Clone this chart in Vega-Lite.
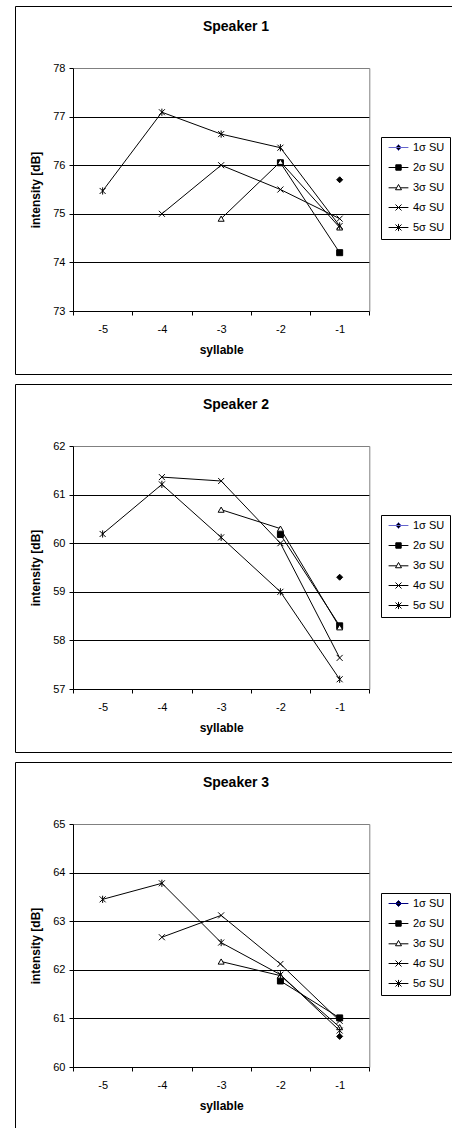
{
 "$schema": "https://vega.github.io/schema/vega-lite/v6.json",
 "padding": {"left": 14, "top": 5, "right": 0, "bottom": 0},
 "spacing": 8,
 "datasets": {
  "d": [
   {"speaker": "Speaker 1", "series": "1σ SU", "syllable": -1, "intensity": 75.7},
   {"speaker": "Speaker 1", "series": "2σ SU", "syllable": -2, "intensity": 76.05},
   {"speaker": "Speaker 1", "series": "2σ SU", "syllable": -1, "intensity": 74.2},
   {"speaker": "Speaker 1", "series": "3σ SU", "syllable": -3, "intensity": 74.9},
   {"speaker": "Speaker 1", "series": "3σ SU", "syllable": -2, "intensity": 76.07},
   {"speaker": "Speaker 1", "series": "3σ SU", "syllable": -1, "intensity": 74.72},
   {"speaker": "Speaker 1", "series": "4σ SU", "syllable": -4, "intensity": 75.0},
   {"speaker": "Speaker 1", "series": "4σ SU", "syllable": -3, "intensity": 76.0},
   {"speaker": "Speaker 1", "series": "4σ SU", "syllable": -2, "intensity": 75.5},
   {"speaker": "Speaker 1", "series": "4σ SU", "syllable": -1, "intensity": 74.9},
   {"speaker": "Speaker 1", "series": "5σ SU", "syllable": -5, "intensity": 75.47},
   {"speaker": "Speaker 1", "series": "5σ SU", "syllable": -4, "intensity": 77.09},
   {"speaker": "Speaker 1", "series": "5σ SU", "syllable": -3, "intensity": 76.64},
   {"speaker": "Speaker 1", "series": "5σ SU", "syllable": -2, "intensity": 76.36},
   {"speaker": "Speaker 1", "series": "5σ SU", "syllable": -1, "intensity": 74.75},
   {"speaker": "Speaker 2", "series": "1σ SU", "syllable": -1, "intensity": 59.3},
   {"speaker": "Speaker 2", "series": "2σ SU", "syllable": -2, "intensity": 60.18},
   {"speaker": "Speaker 2", "series": "2σ SU", "syllable": -1, "intensity": 58.3},
   {"speaker": "Speaker 2", "series": "3σ SU", "syllable": -3, "intensity": 60.69},
   {"speaker": "Speaker 2", "series": "3σ SU", "syllable": -2, "intensity": 60.3},
   {"speaker": "Speaker 2", "series": "3σ SU", "syllable": -1, "intensity": 58.27},
   {"speaker": "Speaker 2", "series": "4σ SU", "syllable": -4, "intensity": 61.36},
   {"speaker": "Speaker 2", "series": "4σ SU", "syllable": -3, "intensity": 61.28},
   {"speaker": "Speaker 2", "series": "4σ SU", "syllable": -2, "intensity": 60.0},
   {"speaker": "Speaker 2", "series": "4σ SU", "syllable": -1, "intensity": 57.64},
   {"speaker": "Speaker 2", "series": "5σ SU", "syllable": -5, "intensity": 60.19},
   {"speaker": "Speaker 2", "series": "5σ SU", "syllable": -4, "intensity": 61.21},
   {"speaker": "Speaker 2", "series": "5σ SU", "syllable": -3, "intensity": 60.12},
   {"speaker": "Speaker 2", "series": "5σ SU", "syllable": -2, "intensity": 59.0},
   {"speaker": "Speaker 2", "series": "5σ SU", "syllable": -1, "intensity": 57.2},
   {"speaker": "Speaker 3", "series": "1σ SU", "syllable": -1, "intensity": 60.63},
   {"speaker": "Speaker 3", "series": "2σ SU", "syllable": -2, "intensity": 61.77},
   {"speaker": "Speaker 3", "series": "2σ SU", "syllable": -1, "intensity": 61.01},
   {"speaker": "Speaker 3", "series": "3σ SU", "syllable": -3, "intensity": 62.17},
   {"speaker": "Speaker 3", "series": "3σ SU", "syllable": -2, "intensity": 61.88},
   {"speaker": "Speaker 3", "series": "3σ SU", "syllable": -1, "intensity": 60.82},
   {"speaker": "Speaker 3", "series": "4σ SU", "syllable": -4, "intensity": 62.67},
   {"speaker": "Speaker 3", "series": "4σ SU", "syllable": -3, "intensity": 63.12},
   {"speaker": "Speaker 3", "series": "4σ SU", "syllable": -2, "intensity": 62.12},
   {"speaker": "Speaker 3", "series": "4σ SU", "syllable": -1, "intensity": 60.95},
   {"speaker": "Speaker 3", "series": "5σ SU", "syllable": -5, "intensity": 63.45},
   {"speaker": "Speaker 3", "series": "5σ SU", "syllable": -4, "intensity": 63.78},
   {"speaker": "Speaker 3", "series": "5σ SU", "syllable": -3, "intensity": 62.56},
   {"speaker": "Speaker 3", "series": "5σ SU", "syllable": -2, "intensity": 61.9},
   {"speaker": "Speaker 3", "series": "5σ SU", "syllable": -1, "intensity": 60.75}
  ]
 },
 "vconcat": [
  {
   "width": 438, "height": 368,
   "title": {"text": "Speaker 1", "offset": -28, "anchor": "middle", "frame": "group", "dx": 2},
   "data": {"name": "d"},
   "transform": [{"filter": "datum.speaker === 'Speaker 1'"}],
   "resolve": {"scale": {"shape": "independent", "fill": "independent", "stroke": "independent"}, "axis": {"y": "independent"}},
   "layer": [
    {"mark": {"type": "line", "color": "#000", "strokeWidth": 1},
     "encoding": {
      "x": {"field": "syllable", "type": "ordinal", "scale": {"type": "band", "domain": [-5, -4, -3, -2, -1], "range": [58, 354.3], "paddingInner": 0, "paddingOuter": 0},
            "axis": {"orient": "bottom", "offset": -63, "tickBand": "extent", "tickSize": 4, "labelPadding": 8, "labelAngle": 0, "title": "syllable", "titlePadding": 10, "grid": false}},
      "y": {"field": "intensity", "type": "quantitative", "scale": {"domain": [73, 78], "range": [305, 62], "nice": false, "zero": false},
            "axis": {"values": [73, 74, 75, 76, 77, 78], "offset": -58, "tickSize": 4, "labelPadding": 4, "grid": true, "gridColor": {"condition": {"test": "datum.value === 78", "value": "#808080"}, "value": "#000"}, "title": "intensity [dB]", "titlePadding": 10}},
      "detail": {"field": "series"}
     }},
    {"mark": {"type": "point", "filled": true, "stroke": "#000", "strokeWidth": 1, "size": 36, "opacity": 1},
     "encoding": {
      "x": {"field": "syllable", "type": "ordinal", "scale": {"type": "band", "domain": [-5, -4, -3, -2, -1], "range": [58, 354.3], "paddingInner": 0, "paddingOuter": 0},
            "axis": {"orient": "bottom", "offset": -63, "tickBand": "extent", "tickSize": 4, "labelPadding": 8, "labelAngle": 0, "title": "syllable", "titlePadding": 10, "grid": false}},
      "y": {"field": "intensity", "type": "quantitative", "scale": {"domain": [73, 78], "range": [305, 62], "nice": false, "zero": false},
            "axis": {"orient": "right", "offset": -83.7, "labels": false, "ticks": false, "grid": false, "domainColor": "#808080", "title": null}},
      "shape": {"field": "series", "type": "nominal", "scale": {"domain": ["1σ SU", "2σ SU", "3σ SU", "4σ SU", "5σ SU"], "range": ["diamond", "square", "triangle-up", "M-1,-1L1,1M-1,1L1,-1", "M-1,-1L1,1M-1,1L1,-1M0,-1.2V1.2"]}, "legend": null},
      "fill": {"field": "series", "type": "nominal", "scale": {"domain": ["1σ SU", "2σ SU", "3σ SU", "4σ SU", "5σ SU"], "range": ["#000", "#000", "#fff", "#000", "#000"]}, "legend": null}
     }},
    {"data": {"values": []},
     "mark": {"type": "point", "filled": true, "strokeWidth": 1, "size": 36, "opacity": 1},
     "encoding": {
      "shape": {"field": "series", "type": "nominal", "scale": {"domain": ["1σ SU", "2σ SU", "3σ SU", "4σ SU", "5σ SU"], "range": ["M-3.3,0H3.3M0,-1L1,0L0,1L-1,0Z", "M-3.3,0H3.3M-0.9,-0.9H0.9V0.9H-0.9Z", "M-3.3,0.1H-0.62M0.62,0.1H3.3M0,-1L1,0.75L-1,0.75Z", "M-3.3,0H3.3M-1,-1L1,1M-1,1L1,-1", "M-3.3,0H3.3M-1,-1L1,1M-1,1L1,-1M0,-1.2V1.2"]}, "legend": {"title": null}},
      "fill": {"field": "series", "type": "nominal", "scale": {"domain": ["1σ SU", "2σ SU", "3σ SU", "4σ SU", "5σ SU"], "range": ["#000", "#000", "#fff", "#000", "#000"]}, "legend": {"title": null}},
      "stroke": {"field": "series", "type": "nominal", "scale": {"domain": ["1σ SU", "2σ SU", "3σ SU", "4σ SU", "5σ SU"], "range": ["#6666cc", "#000", "#000", "#000", "#000"]}, "legend": {"title": null}}
     }}
   ]
  },
  {
   "width": 438, "height": 368,
   "title": {"text": "Speaker 2", "offset": -28, "anchor": "middle", "frame": "group", "dx": 2},
   "data": {"name": "d"},
   "transform": [{"filter": "datum.speaker === 'Speaker 2'"}],
   "resolve": {"scale": {"shape": "independent", "fill": "independent", "stroke": "independent"}, "axis": {"y": "independent"}},
   "layer": [
    {"mark": {"type": "line", "color": "#000", "strokeWidth": 1},
     "encoding": {
      "x": {"field": "syllable", "type": "ordinal", "scale": {"type": "band", "domain": [-5, -4, -3, -2, -1], "range": [58, 354.3], "paddingInner": 0, "paddingOuter": 0},
            "axis": {"orient": "bottom", "offset": -63, "tickBand": "extent", "tickSize": 4, "labelPadding": 8, "labelAngle": 0, "title": "syllable", "titlePadding": 10, "grid": false}},
      "y": {"field": "intensity", "type": "quantitative", "scale": {"domain": [57, 62], "range": [305, 62], "nice": false, "zero": false},
            "axis": {"values": [57, 58, 59, 60, 61, 62], "offset": -58, "tickSize": 4, "labelPadding": 4, "grid": true, "gridColor": {"condition": {"test": "datum.value === 62", "value": "#808080"}, "value": "#000"}, "title": "intensity [dB]", "titlePadding": 10}},
      "detail": {"field": "series"}
     }},
    {"mark": {"type": "point", "filled": true, "stroke": "#000", "strokeWidth": 1, "size": 36, "opacity": 1},
     "encoding": {
      "x": {"field": "syllable", "type": "ordinal", "scale": {"type": "band", "domain": [-5, -4, -3, -2, -1], "range": [58, 354.3], "paddingInner": 0, "paddingOuter": 0},
            "axis": {"orient": "bottom", "offset": -63, "tickBand": "extent", "tickSize": 4, "labelPadding": 8, "labelAngle": 0, "title": "syllable", "titlePadding": 10, "grid": false}},
      "y": {"field": "intensity", "type": "quantitative", "scale": {"domain": [57, 62], "range": [305, 62], "nice": false, "zero": false},
            "axis": {"orient": "right", "offset": -83.7, "labels": false, "ticks": false, "grid": false, "domainColor": "#808080", "title": null}},
      "shape": {"field": "series", "type": "nominal", "scale": {"domain": ["1σ SU", "2σ SU", "3σ SU", "4σ SU", "5σ SU"], "range": ["diamond", "square", "triangle-up", "M-1,-1L1,1M-1,1L1,-1", "M-1,-1L1,1M-1,1L1,-1M0,-1.2V1.2"]}, "legend": null},
      "fill": {"field": "series", "type": "nominal", "scale": {"domain": ["1σ SU", "2σ SU", "3σ SU", "4σ SU", "5σ SU"], "range": ["#000", "#000", "#fff", "#000", "#000"]}, "legend": null}
     }},
    {"data": {"values": []},
     "mark": {"type": "point", "filled": true, "strokeWidth": 1, "size": 36, "opacity": 1},
     "encoding": {
      "shape": {"field": "series", "type": "nominal", "scale": {"domain": ["1σ SU", "2σ SU", "3σ SU", "4σ SU", "5σ SU"], "range": ["M-3.3,0H3.3M0,-1L1,0L0,1L-1,0Z", "M-3.3,0H3.3M-0.9,-0.9H0.9V0.9H-0.9Z", "M-3.3,0.1H-0.62M0.62,0.1H3.3M0,-1L1,0.75L-1,0.75Z", "M-3.3,0H3.3M-1,-1L1,1M-1,1L1,-1", "M-3.3,0H3.3M-1,-1L1,1M-1,1L1,-1M0,-1.2V1.2"]}, "legend": {"title": null}},
      "fill": {"field": "series", "type": "nominal", "scale": {"domain": ["1σ SU", "2σ SU", "3σ SU", "4σ SU", "5σ SU"], "range": ["#000", "#000", "#fff", "#000", "#000"]}, "legend": {"title": null}},
      "stroke": {"field": "series", "type": "nominal", "scale": {"domain": ["1σ SU", "2σ SU", "3σ SU", "4σ SU", "5σ SU"], "range": ["#6666cc", "#000", "#000", "#000", "#000"]}, "legend": {"title": null}}
     }}
   ]
  },
  {
   "width": 438, "height": 368,
   "title": {"text": "Speaker 3", "offset": -28, "anchor": "middle", "frame": "group", "dx": 2},
   "data": {"name": "d"},
   "transform": [{"filter": "datum.speaker === 'Speaker 3'"}],
   "resolve": {"scale": {"shape": "independent", "fill": "independent", "stroke": "independent"}, "axis": {"y": "independent"}},
   "layer": [
    {"mark": {"type": "line", "color": "#000", "strokeWidth": 1},
     "encoding": {
      "x": {"field": "syllable", "type": "ordinal", "scale": {"type": "band", "domain": [-5, -4, -3, -2, -1], "range": [58, 354.3], "paddingInner": 0, "paddingOuter": 0},
            "axis": {"orient": "bottom", "offset": -63, "tickBand": "extent", "tickSize": 4, "labelPadding": 8, "labelAngle": 0, "title": "syllable", "titlePadding": 10, "grid": false}},
      "y": {"field": "intensity", "type": "quantitative", "scale": {"domain": [60, 65], "range": [305, 62], "nice": false, "zero": false},
            "axis": {"values": [60, 61, 62, 63, 64, 65], "offset": -58, "tickSize": 4, "labelPadding": 4, "grid": true, "gridColor": {"condition": {"test": "datum.value === 65", "value": "#808080"}, "value": "#000"}, "title": "intensity [dB]", "titlePadding": 10}},
      "detail": {"field": "series"}
     }},
    {"mark": {"type": "point", "filled": true, "stroke": "#000", "strokeWidth": 1, "size": 36, "opacity": 1},
     "encoding": {
      "x": {"field": "syllable", "type": "ordinal", "scale": {"type": "band", "domain": [-5, -4, -3, -2, -1], "range": [58, 354.3], "paddingInner": 0, "paddingOuter": 0},
            "axis": {"orient": "bottom", "offset": -63, "tickBand": "extent", "tickSize": 4, "labelPadding": 8, "labelAngle": 0, "title": "syllable", "titlePadding": 10, "grid": false}},
      "y": {"field": "intensity", "type": "quantitative", "scale": {"domain": [60, 65], "range": [305, 62], "nice": false, "zero": false},
            "axis": {"orient": "right", "offset": -83.7, "labels": false, "ticks": false, "grid": false, "domainColor": "#808080", "title": null}},
      "shape": {"field": "series", "type": "nominal", "scale": {"domain": ["1σ SU", "2σ SU", "3σ SU", "4σ SU", "5σ SU"], "range": ["diamond", "square", "triangle-up", "M-1,-1L1,1M-1,1L1,-1", "M-1,-1L1,1M-1,1L1,-1M0,-1.2V1.2"]}, "legend": null},
      "fill": {"field": "series", "type": "nominal", "scale": {"domain": ["1σ SU", "2σ SU", "3σ SU", "4σ SU", "5σ SU"], "range": ["#000", "#000", "#fff", "#000", "#000"]}, "legend": null}
     }},
    {"data": {"values": []},
     "mark": {"type": "point", "filled": true, "strokeWidth": 1, "size": 36, "opacity": 1},
     "encoding": {
      "shape": {"field": "series", "type": "nominal", "scale": {"domain": ["1σ SU", "2σ SU", "3σ SU", "4σ SU", "5σ SU"], "range": ["M-3.3,0H3.3M0,-1L1,0L0,1L-1,0Z", "M-3.3,0H3.3M-0.9,-0.9H0.9V0.9H-0.9Z", "M-3.3,0.1H-0.62M0.62,0.1H3.3M0,-1L1,0.75L-1,0.75Z", "M-3.3,0H3.3M-1,-1L1,1M-1,1L1,-1", "M-3.3,0H3.3M-1,-1L1,1M-1,1L1,-1M0,-1.2V1.2"]}, "legend": {"title": null}},
      "fill": {"field": "series", "type": "nominal", "scale": {"domain": ["1σ SU", "2σ SU", "3σ SU", "4σ SU", "5σ SU"], "range": ["#000", "#000", "#fff", "#000", "#000"]}, "legend": {"title": null}},
      "stroke": {"field": "series", "type": "nominal", "scale": {"domain": ["1σ SU", "2σ SU", "3σ SU", "4σ SU", "5σ SU"], "range": ["#000080", "#000", "#000", "#000", "#000"]}, "legend": {"title": null}}
     }}
   ]
  }
 ],
 "resolve": {
  "scale": {"x": "independent", "y": "independent", "shape": "independent", "fill": "independent", "stroke": "independent"},
  "legend": {"shape": "independent", "fill": "independent", "stroke": "independent"}
 },
 "config": {
  "font": "Liberation Sans",
  "background": "#ffffff",
  "view": {"stroke": "#000", "strokeWidth": 1},
  "title": {"font": "Liberation Sans", "fontSize": 14, "fontWeight": "bold", "color": "#000"},
  "axis": {
   "labelFont": "Liberation Sans", "labelFontSize": 11, "labelColor": "#000",
   "titleFont": "Liberation Sans", "titleFontSize": 12, "titleFontWeight": "bold", "titleColor": "#000",
   "domainColor": "#000", "tickColor": "#000", "gridColor": "#000", "domainWidth": 1, "tickWidth": 1, "gridWidth": 1
  },
  "legend": {
   "orient": "none", "legendX": 366, "legendY": 131,
   "strokeColor": "#000", "strokeWidth": 1, "padding": 5, "rowPadding": 8,
   "symbolSize": 36, "symbolStrokeWidth": 1, "symbolOffset": 7, "labelOffset": 9,
   "labelFont": "Liberation Sans", "labelFontSize": 11, "labelColor": "#000"
  }
 }
}
